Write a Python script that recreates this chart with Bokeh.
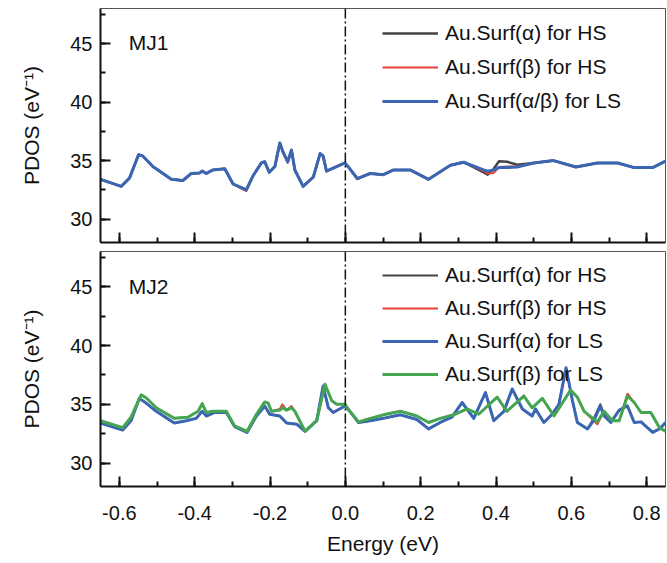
from bokeh.plotting import figure
from bokeh.models import (Range1d, Legend, LegendItem, Span, Label,
                          SingleIntervalTicker, NumeralTickFormatter)
from bokeh.layouts import column
from bokeh.embed import file_html
from bokeh.resources import INLINE

FONT = "Liberation Sans"

# ---------------- data: MJ1 panel ----------------
top_x = [-0.65, -0.595, -0.573, -0.549, -0.538, -0.511, -0.462, -0.431, -0.409, -0.387,
         -0.380, -0.369, -0.352, -0.320, -0.298, -0.263, -0.245, -0.223, -0.214, -0.202,
         -0.187, -0.174, -0.165, -0.153, -0.143, -0.134, -0.112, -0.085, -0.067, -0.059,
         -0.050, -0.001, 0.012, 0.032, 0.066, 0.101, 0.128, 0.172, 0.221, 0.279,
         0.314, 0.367, 0.378, 0.394, 0.408, 0.430, 0.456, 0.500, 0.553, 0.612,
         0.669, 0.723, 0.767, 0.816, 0.850]
top_ls = [33.4, 32.8, 33.5, 35.5, 35.4, 34.5, 33.4, 33.3, 33.9, 33.95,
          34.1, 33.9, 34.2, 34.3, 33.0, 32.5, 33.7, 34.8, 34.9, 34.0,
          34.5, 36.5, 35.7, 34.9, 35.9, 34.2, 32.8, 33.6, 35.6, 35.4,
          34.1, 34.8, 34.3, 33.45, 33.9, 33.8, 34.2, 34.2, 33.4, 34.6,
          34.86, 34.2, 34.1, 34.2, 34.4, 34.4, 34.45, 34.8, 35.0, 34.45,
          34.8, 34.8, 34.4, 34.4, 34.95]
top_hs_a = [33.4, 32.8, 33.5, 35.5, 35.4, 34.5, 33.4, 33.3, 33.9, 33.95,
            34.1, 33.9, 34.2, 34.3, 33.0, 32.5, 33.7, 34.8, 34.9, 34.0,
            34.5, 36.5, 35.7, 34.9, 35.9, 34.2, 32.8, 33.6, 35.6, 35.4,
            34.1, 34.8, 34.3, 33.45, 33.9, 33.8, 34.2, 34.2, 33.4, 34.6,
            34.86, 34.0, 33.8, 34.3, 34.95, 34.9, 34.65, 34.8, 35.0, 34.45,
            34.8, 34.8, 34.4, 34.4, 34.95]
top_hs_b = [33.4, 32.8, 33.5, 35.5, 35.4, 34.5, 33.4, 33.3, 33.9, 33.95,
            34.1, 33.9, 34.2, 34.3, 33.0, 32.4, 33.7, 34.8, 34.9, 34.0,
            34.5, 36.5, 35.7, 34.8, 35.9, 34.2, 32.8, 33.6, 35.6, 35.4,
            34.1, 34.8, 34.3, 33.45, 33.9, 33.8, 34.2, 34.2, 33.4, 34.6,
            34.86, 34.1, 33.9, 33.95, 34.45, 34.5, 34.5, 34.8, 35.0, 34.45,
            34.8, 34.8, 34.4, 34.4, 34.95]

# ---------------- data: MJ2 panel ----------------
bot_xa = [-0.65, -0.591, -0.569, -0.547, -0.529, -0.502, -0.454, -0.422, -0.396, -0.380,
          -0.369, -0.347, -0.316, -0.294, -0.261, -0.236, -0.214, -0.201, -0.174, -0.156,
          -0.129, -0.107, -0.076, -0.059, -0.045, -0.032, -0.001, 0.012, 0.035, 0.066,
          0.101, 0.146, 0.190, 0.221, 0.252, 0.283, 0.310, 0.341, 0.372, 0.394,
          0.421, 0.443, 0.470, 0.496, 0.505, 0.527, 0.549, 0.567, 0.586, 0.603,
          0.616, 0.643, 0.661, 0.677, 0.687, 0.705, 0.727, 0.749, 0.767, 0.785,
          0.816, 0.834, 0.850]
bot_ls_a = [33.4, 32.8, 33.6, 35.5, 35.1, 34.4, 33.4, 33.6, 33.8, 34.4,
            34.0, 34.3, 34.3, 33.1, 32.6, 34.0, 34.85, 34.15, 34.0, 33.4,
            33.3, 32.7, 33.6, 36.55, 34.7, 34.3, 34.85, 34.4, 33.45, 33.6,
            33.8, 34.1, 33.7, 32.9, 33.45, 33.9, 35.15, 33.8, 36.0, 33.6,
            34.4, 36.3, 34.6, 34.0, 34.6, 33.45, 34.15, 35.0, 38.1, 35.3,
            33.45, 32.9, 33.7, 34.85, 34.0, 33.45, 34.5, 34.85, 33.45, 33.5,
            32.6, 32.9, 33.45]
bot_hs_a = [33.4, 32.8, 33.6, 35.5, 35.1, 34.4, 33.4, 33.6, 33.8, 34.4,
            34.0, 34.3, 34.3, 33.1, 32.6, 34.0, 34.85, 34.15, 34.0, 33.4,
            33.3, 32.7, 33.6, 36.55, 34.7, 34.3, 34.85, 34.4, 33.45, 33.6,
            33.8, 34.1, 33.7, 32.9, 33.45, 33.9, 35.15, 33.8, 36.0, 33.6,
            34.4, 36.3, 34.6, 34.0, 34.6, 33.45, 34.15, 35.0, 38.1, 35.3,
            33.45, 32.9, 33.9, 35.0, 34.1, 33.45, 34.5, 34.9, 33.45, 33.5,
            32.6, 32.9, 33.45]
bot_xb = [-0.65, -0.591, -0.569, -0.542, -0.529, -0.502, -0.454, -0.418, -0.391, -0.380,
          -0.369, -0.352, -0.316, -0.294, -0.261, -0.236, -0.214, -0.205, -0.196, -0.174,
          -0.167, -0.156, -0.143, -0.134, -0.107, -0.076, -0.054, -0.036, -0.023, -0.001,
          0.012, 0.035, 0.066, 0.101, 0.146, 0.190, 0.221, 0.252, 0.288, 0.323,
          0.354, 0.403, 0.429, 0.474, 0.496, 0.523, 0.554, 0.598, 0.616, 0.634,
          0.669, 0.687, 0.709, 0.727, 0.749, 0.767, 0.785, 0.811, 0.834, 0.850]
bot_ls_b = [33.6, 33.0, 33.9, 35.8, 35.55, 34.7, 33.8, 33.9, 34.4, 35.05,
            34.3, 34.4, 34.4, 33.15, 32.7, 34.15, 35.2, 35.1, 34.4, 34.5,
            34.7, 34.5, 34.7, 34.4, 32.7, 33.6, 36.7, 35.3, 35.0, 35.0,
            34.4, 33.5, 33.8, 34.1, 34.4, 34.0, 33.45, 33.8, 34.1, 34.6,
            34.15, 35.6, 34.4, 35.7, 34.7, 35.5, 34.0, 36.2, 35.6, 34.4,
            33.5, 34.4, 33.6, 33.6, 35.7, 35.15, 34.3, 34.3, 33.0, 32.7]
bot_hs_b = [33.6, 33.0, 33.9, 35.8, 35.55, 34.7, 33.8, 33.9, 34.4, 35.05,
            34.3, 34.4, 34.4, 33.15, 32.7, 34.15, 35.2, 35.1, 34.4, 34.6,
            35.0, 34.5, 34.85, 34.4, 32.7, 33.6, 36.7, 35.3, 35.0, 35.0,
            34.4, 33.5, 33.8, 34.1, 34.4, 34.0, 33.45, 33.8, 34.1, 34.6,
            34.15, 35.6, 34.4, 35.75, 34.7, 35.5, 34.0, 36.2, 35.6, 34.4,
            33.3, 34.4, 33.6, 33.6, 35.9, 35.15, 34.3, 34.3, 33.0, 32.7]

top_labels = ["Au.Surf(\u03b1) for HS", "Au.Surf(\u03b2) for HS", "Au.Surf(\u03b1/\u03b2) for LS"]
bot_labels = ["Au.Surf(\u03b1) for HS", "Au.Surf(\u03b2) for HS",
              "Au.Surf(\u03b1) for LS", "Au.Surf(\u03b2) for LS"]

C_BLACK = "#444444"
C_RED = "#e8413c"
C_BLUE = "#3a66b3"
C_GREEN = "#45a652"

x_range = Range1d(-0.65, 0.85)


def make_fig(frame_h, border_top, border_bottom, show_x):
    p = figure(frame_width=565, frame_height=frame_h, x_range=x_range,
               y_range=Range1d(28, 48), output_backend="svg", toolbar_location=None,
               min_border_left=100, min_border_right=2, min_border_top=border_top,
               min_border_bottom=border_bottom)
    p.background_fill_color = "white"
    p.border_fill_color = "white"
    p.grid.visible = False
    p.outline_line_color = "#555555"
    p.outline_line_width = 1
    p.xaxis.ticker = SingleIntervalTicker(interval=0.2, num_minor_ticks=2)
    p.yaxis.ticker = SingleIntervalTicker(interval=5, num_minor_ticks=2)
    p.xaxis.formatter = NumeralTickFormatter(format="0.0")
    for ax in (p.xaxis[0], p.yaxis[0]):
        ax.axis_line_width = 2
        ax.axis_line_color = "#111111"
        ax.major_tick_in = 10
        ax.major_tick_out = 0
        ax.minor_tick_in = 5
        ax.minor_tick_out = 0
        ax.major_tick_line_width = 2
        ax.minor_tick_line_width = 2
        ax.major_tick_line_color = "#111111"
        ax.minor_tick_line_color = "#111111"
        ax.major_label_text_font = FONT
        ax.major_label_text_font_size = "20px"
        ax.major_label_text_color = "#111111"
        ax.axis_label_text_font = FONT
        ax.axis_label_text_font_size = "21px"
        ax.axis_label_text_font_style = "normal"
        ax.axis_label_text_color = "#111111"
    p.yaxis.major_label_standoff = 8
    p.yaxis.axis_label = "PDOS (eV\u207b\u00b9)"
    p.yaxis.axis_label_standoff = 24
    if show_x:
        p.xaxis.major_label_standoff = 19
        p.xaxis.axis_label = "Energy (eV)"
        p.xaxis.axis_label_standoff = 9
    else:
        p.xaxis.major_label_text_font_size = "0px"
        p.xaxis.major_label_standoff = 0
    p.add_layout(Span(location=0, dimension="height", line_color="#111111",
                      line_width=1.5, line_dash="10 3 2 3"))
    return p


def style_legend(leg, spacing):
    leg.background_fill_alpha = 0
    leg.border_line_alpha = 0
    leg.label_text_font = FONT
    leg.label_text_font_size = "21px"
    leg.label_text_color = "#111111"
    leg.glyph_width = 56
    leg.glyph_height = 24
    leg.label_height = 24
    leg.label_standoff = 7
    leg.spacing = spacing
    leg.padding = 0
    leg.margin = 0


# ---------------- top panel ----------------
p1 = make_fig(234, 8, 9, False)
r1a = p1.line(top_x, top_hs_a, line_color=C_BLACK, line_width=2.5, line_join="round")
r1b = p1.line(top_x, top_hs_b, line_color=C_RED, line_width=2, line_join="round")
r1c = p1.line(top_x, top_ls, line_color=C_BLUE, line_width=3, line_join="round")
leg1 = Legend(items=[LegendItem(label=top_labels[0], renderers=[r1a]),
                     LegendItem(label=top_labels[1], renderers=[r1b]),
                     LegendItem(label=top_labels[2], renderers=[r1c])],
              location=(282, 129))
style_legend(leg1, 10)
p1.add_layout(leg1)
p1.add_layout(Label(x=-0.575, y=45.1, text="MJ1", text_font=FONT,
                    text_font_size="21px", text_color="#111111",
                    text_baseline="alphabetic"))

# ---------------- bottom panel ----------------
p2 = make_fig(235, 0, 70, True)
r2a = p2.line(bot_xa, bot_hs_a, line_color=C_BLACK, line_width=2, line_join="round")
r2b = p2.line(bot_xb, bot_hs_b, line_color=C_RED, line_width=2, line_join="round")
r2c = p2.line(bot_xa, bot_ls_a, line_color=C_BLUE, line_width=3, line_join="round")
r2d = p2.line(bot_xb, bot_ls_b, line_color=C_GREEN, line_width=3, line_join="round")
leg2 = Legend(items=[LegendItem(label=bot_labels[0], renderers=[r2a]),
                     LegendItem(label=bot_labels[1], renderers=[r2b]),
                     LegendItem(label=bot_labels[2], renderers=[r2c]),
                     LegendItem(label=bot_labels[3], renderers=[r2d])],
              location=(282, 100))
style_legend(leg2, 9)
p2.add_layout(leg2)
p2.add_layout(Label(x=-0.575, y=45.05, text="MJ2", text_font=FONT,
                    text_font_size="21px", text_color="#111111",
                    text_baseline="alphabetic"))

layout = column(p1, p2, spacing=0)
open("out.html", "w").write(file_html(layout, INLINE))
